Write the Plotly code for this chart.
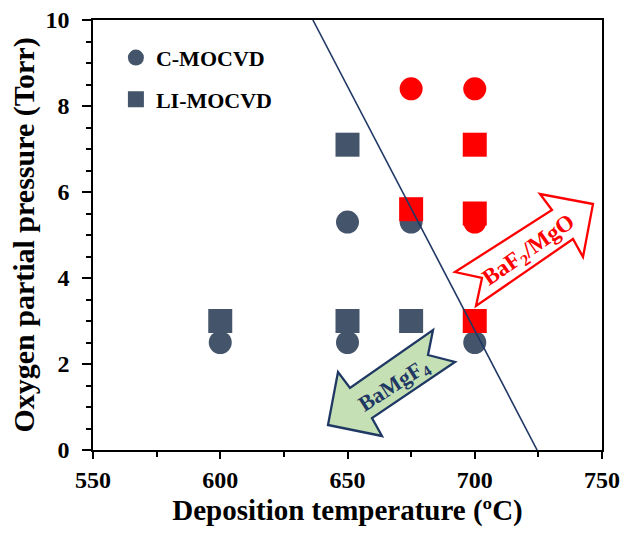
import plotly.graph_objects as go

# ---- data ----
c_dark_x = [600, 650, 650, 675, 700]
c_dark_y = [2.5, 2.5, 5.3, 5.3, 2.5]
c_red_x = [675, 700, 700]
c_red_y = [8.4, 8.4, 5.3]
s_dark_x = [600, 650, 650, 675]
s_dark_y = [3.0, 3.0, 7.1, 3.0]
s_red_x = [675, 700, 700, 700]
s_red_y = [5.6, 7.1, 5.5, 3.0]
boundary_x = [636.4, 724.5]
boundary_y = [10, 0]

DARK = "#44546A"
RED = "#FF0000"
NAVY = "#1F3864"
FONT = "Liberation Serif"

W, H = 624, 533
PL, PR, PT, PB = 93, 602, 20, 450          # plot area edges in pixels
ML, MT, MR, MB = PL, PT, W - PR, H - PB
XR = [550, 750]
YR = [0, 10]


def px2data(px, py):
    x = XR[0] + (px - PL) / (PR - PL) * (XR[1] - XR[0])
    y = YR[0] + (PB - py) / (PB - PT) * (YR[1] - YR[0])
    return x, y


def path_from_px(pts):
    d = []
    for i, (px, py) in enumerate(pts):
        x, y = px2data(px, py)
        d.append(("M" if i == 0 else "L") + f"{x:.3f},{y:.4f}")
    return " ".join(d) + " Z"


fig = go.Figure()
fig.add_trace(go.Scatter(x=c_dark_x, y=c_dark_y, mode="markers", name="C-MOCVD",
                         legendgroup="c",
                         marker=dict(symbol="circle", size=23, color=DARK, line=dict(width=0))))
fig.add_trace(go.Scatter(x=s_dark_x, y=s_dark_y, mode="markers", name="LI-MOCVD",
                         legendgroup="s",
                         marker=dict(symbol="square", size=24, color=DARK, line=dict(width=0))))
fig.add_trace(go.Scatter(x=c_red_x, y=c_red_y, mode="markers", showlegend=False,
                         marker=dict(symbol="circle", size=23, color=RED, line=dict(width=0))))
fig.add_trace(go.Scatter(x=s_red_x, y=s_red_y, mode="markers", showlegend=False,
                         marker=dict(symbol="square", size=24, color=RED, line=dict(width=0))))
fig.add_trace(go.Scatter(x=boundary_x, y=boundary_y, mode="lines", showlegend=False,
                         line=dict(color=NAVY, width=1.6)))

# arrows (pixel outlines converted to data space)
baf_arrow = [(593, 204), (540, 194), (552, 210), (455, 272), (482, 278),
             (476, 306), (573, 239), (583, 257)]
bamg_arrow = [(328, 425), (338, 372), (350, 388), (433, 330), (428, 355),
              (455, 362), (372, 418), (382, 436)]
fig.add_shape(type="path", path=path_from_px(baf_arrow), fillcolor="white",
              line=dict(color=RED, width=2.3), layer="above")
fig.add_shape(type="path", path=path_from_px(bamg_arrow), fillcolor="#C5E0B4",
              line=dict(color=NAVY, width=2.3), layer="above")

tx, ty = px2data(529, 251)
fig.add_annotation(x=tx, y=ty, text="BaF<sub>2</sub>/MgO", showarrow=False, textangle=-35,
                   font=dict(family=FONT, size=23, color=RED, weight="bold"))
tx, ty = px2data(394, 386)
fig.add_annotation(x=tx, y=ty, text="BaMgF<sub>4</sub>", showarrow=False, textangle=-33,
                   font=dict(family=FONT, size=22, color=NAVY, weight="bold"))

axis_font = dict(family=FONT, size=24, color="black", weight="bold")
fig.update_xaxes(range=XR, dtick=50, tick0=550, ticks="outside", ticklen=7, tickwidth=1.5,
                 tickcolor="black", showline=True, linecolor="black", linewidth=1.5,
                 mirror=True, showgrid=False, zeroline=False, tickfont=axis_font,
                 ticklabeloverflow="allow",
                 minor=dict(dtick=25, ticks="outside", ticklen=5, tickwidth=1.5, tickcolor="black"),
                 title=dict(text="Deposition temperature (ºC)", standoff=8,
                            font=dict(family=FONT, size=29, color="black", weight="bold")))
fig.update_yaxes(range=YR, dtick=2, tick0=0, ticks="outside", ticklen=9, tickwidth=1.5,
                 tickcolor="black", showline=True, linecolor="black", linewidth=1.5,
                 mirror=True, showgrid=False, zeroline=False, tickfont=axis_font,
                 ticklabelstandoff=8, ticklabeloverflow="allow",
                 minor=dict(dtick=0.5, ticks="outside", ticklen=5, tickwidth=1.5, tickcolor="black"),
                 title=dict(text="Oxygen partial pressure (Torr)", standoff=2,
                            font=dict(family=FONT, size=30, color="black", weight="bold")))

fig.update_layout(
    width=W, height=H,
    margin=dict(l=ML, r=MR, t=MT, b=MB, autoexpand=False),
    plot_bgcolor="white", paper_bgcolor="white",
    legend=dict(x=0.045, y=0.961, xanchor="left", yanchor="top", bgcolor="rgba(0,0,0,0)",
                itemwidth=30, tracegroupgap=10,
                font=dict(family=FONT, size=22, color="black", weight="bold")),
)

# remove the default 8px page margin so the 624x533 figure fills the window exactly
fig.write_html("out.html", config={"displayModeBar": False},
               post_script="document.body.style.margin='0px';")
